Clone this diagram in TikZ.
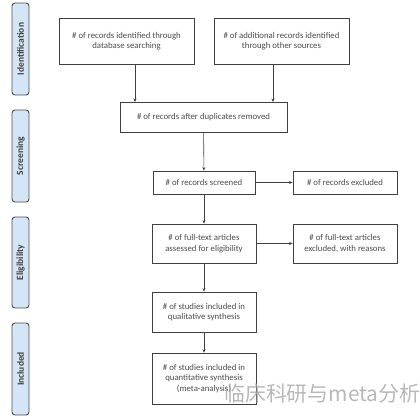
\documentclass[tikz,border=0pt]{standalone}
\usepackage{fontspec}
\setmainfont{Carlito}
\newfontfamily\cjk{Noto Sans CJK SC}
\usetikzlibrary{arrows.meta}
\definecolor{phasefill}{RGB}{212,230,246}
\begin{document}
\begin{tikzpicture}[x=1bp,y=-1bp,
  flowbox/.style={draw=black!75,line width=0.8bp,fill=white,align=center,font=\fontsize{8.8}{10.5}\selectfont,text=black!70,inner sep=0pt},
  phase/.style={draw=black!70,line width=0.9bp,fill=phasefill,rounded corners=3bp},
  phasetext/.style={rotate=90,font=\bfseries\fontsize{9.5}{10}\selectfont,text=black!75},
  arr/.style={draw=black!75,line width=0.6bp,-{Stealth[length=3.5bp,width=3bp]}}]
\useasboundingbox (0,0) rectangle (420,420);
% phase labels
\draw[phase] (12,3) rectangle (29,95);
\node[phasetext] (pid) at (20.5,49) {Identification};
\draw[phase] (12,110) rectangle (29,202);
\node[phasetext] (psc) at (20.5,156) {Screening};
\draw[phase] (12,217) rectangle (29,308);
\node[phasetext] (pel) at (20.5,262.5) {Eligibility};
\draw[phase] (12,323) rectangle (29,415);
\node[phasetext] (pin) at (20.5,369) {Included};
% boxes
\node[flowbox,minimum width=135bp,minimum height=46bp] (db) at (126.5,41) {\# of records identified through\\database searching};
\node[flowbox,minimum width=135bp,minimum height=46bp] (oth) at (281.5,41) {\# of additional records identified\\through other sources};
\node[flowbox,minimum width=167bp,minimum height=30bp] (dup) at (203.5,117.5) {\# of records after duplicates removed};
\node[flowbox,minimum width=102bp,minimum height=23bp] (scr) at (204,182.5) {\# of records screened};
\node[flowbox,minimum width=104bp,minimum height=23bp] (exc) at (345,182.5) {\# of records excluded};
\node[flowbox,minimum width=104bp,minimum height=39bp] (ft) at (204,243.5) {\# of full-text articles\\assessed for eligibility};
\node[flowbox,minimum width=104bp,minimum height=39bp] (ftx) at (345,243.5) {\# of full-text articles\\excluded, with reasons};
\node[flowbox,minimum width=104bp,minimum height=40bp] (qual) at (204,312) {\# of studies included in\\qualitative synthesis};
\node[flowbox,minimum width=104bp,minimum height=51bp] (quan) at (204,378.5) {\# of studies included in\\quantitative synthesis\\(meta-analysis)};
% arrows
\draw[arr] (db.south -| 135,0) -- (135,102);
\draw[arr] (oth.south -| 273,0) -- (273,102);
\draw[arr] (dup) -- (scr);
\draw[arr] (scr) -- (exc);
\draw[arr] (scr) -- (ft);
\draw[arr] (ft) -- (ftx);
\draw[arr] (ft) -- (qual);
\draw[arr] (qual) -- (quan);
% watermark
\node[text=black!35,opacity=0.8,font=\cjk\fontsize{21}{23}\selectfont,anchor=west,inner sep=0pt] (wm) at (224,394) {临床科研与meta分析};
\end{tikzpicture}
\end{document}
